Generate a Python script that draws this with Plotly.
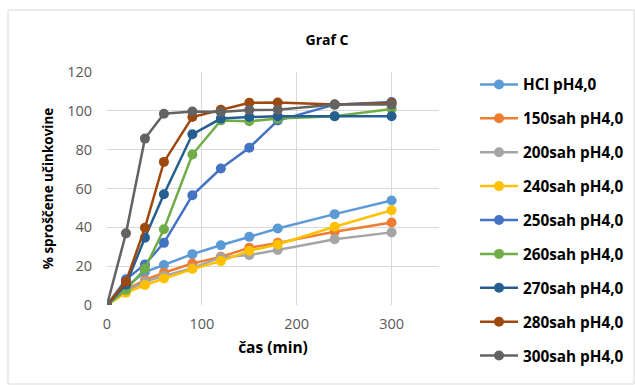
import plotly.graph_objects as go

time_min = [0, 20, 40, 60, 90, 120, 150, 180, 240, 300]

series_names = ["HCl pH4,0", "150sah pH4,0", "200sah pH4,0", "240sah pH4,0",
                "250sah pH4,0", "260sah pH4,0", "270sah pH4,0", "280sah pH4,0",
                "300sah pH4,0"]

hcl = [0, 9.4, 17, 20.6, 26.2, 30.8, 35.1, 39.4, 46.8, 53.8]
sah150 = [0, 7.7, 12.9, 16.6, 21.4, 24.8, 29.5, 32, 37.7, 42.5]
sah200 = [0, 7, 12, 15, 19, 24.5, 25.7, 28.3, 33.9, 37.4]
sah240 = [0, 6.3, 10.3, 13.7, 18.5, 22.6, 27.9, 31.2, 40.3, 48.8]
sah250 = [0, 13.2, 20.9, 32, 56.5, 70.3, 81, 95, 103.2, 104.5]
sah260 = [0, 7.7, 18.8, 39, 77.5, 95, 94.6, 96, 97.2, 101]
sah270 = [0, 10.5, 34.6, 57, 87.9, 96, 96.8, 97.2, 97.2, 97.2]
sah280 = [0, 12, 39.8, 73.7, 96.8, 100.5, 104.2, 104.3, 103.3, 104]
sah300 = [0, 36.9, 85.7, 98.5, 99.7, 99.4, 100.4, 100.6, 103.2, 103.2]

all_series = [hcl, sah150, sah200, sah240, sah250, sah260, sah270, sah280, sah300]
colors = ["#5B9BD5", "#ED7D31", "#A5A5A5", "#FFC000", "#4472C4",
          "#70AD47", "#255E91", "#9E480E", "#636363"]

x_ticks = [0, 100, 200, 300]
y_ticks = [0, 20, 40, 60, 80, 100, 120]

FONT = "Open Sans"

fig = go.Figure()
for name, vals, col in zip(series_names, all_series, colors):
    fig.add_trace(go.Scatter(
        x=time_min, y=vals, name=name, mode="lines+markers",
        line=dict(color=col, width=2.5),
        marker=dict(color=col, size=10),
        legendgroup=name,
    ))

L, R, T, B = 107, 196, 72, 80
W, H = 635, 385
pw = W - L - R
ph = H - T - B

fig.update_layout(
    width=W, height=H,
    margin=dict(l=L, r=R, t=T, b=B, autoexpand=False),
    paper_bgcolor="white", plot_bgcolor="white",
    font=dict(family=FONT, size=13, color="#595959"),
    title=dict(text="<b>Graf C</b>", x=(327 - L) / pw, xref="paper", xanchor="center",
               y=1 - 40 / H, yanchor="middle",
               font=dict(family=FONT, size=14, color="black")),
    showlegend=True,
    legend=dict(x=(475 - L) / pw, y=1 + (T - 68) / ph, xanchor="left", yanchor="top",
                tracegroupgap=11, itemwidth=38, maxheight=1,
                font=dict(family=FONT, size=15.3, color="black", weight="bold"),
                bgcolor="rgba(0,0,0,0)"),
    xaxis=dict(range=[0, 350], tickvals=x_ticks, showgrid=True, gridcolor="#D9D9D9",
               gridwidth=1, zeroline=False, showline=False, ticks="",
               ticklabelstandoff=8,
               tickfont=dict(size=14.5, color="#595959"),
               title=dict(text="<b>čas (min)</b>", standoff=10,
                          font=dict(family=FONT, size=15.5, color="black"))),
    yaxis=dict(range=[0, 120], tickvals=y_ticks, showgrid=True, gridcolor="#D9D9D9",
               gridwidth=1, zeroline=False, showline=False, ticks="",
               ticklabelstandoff=14,
               tickfont=dict(size=14.5, color="#595959"),
               title=dict(text="<b>% sproščene učinkovine</b>", standoff=10,
                          font=dict(family=FONT, size=13.5, color="black"))),
)

# outer chart border
fig.add_shape(type="rect", xref="paper", yref="paper",
              x0=(8 - L) / pw, x1=(634 - L) / pw, y0=-(384 - T - ph) / ph, y1=1 + (T - 10) / ph,
              line=dict(color="#D9D9D9", width=1), fillcolor="rgba(0,0,0,0)", layer="below")

fig.write_html("out.html")
